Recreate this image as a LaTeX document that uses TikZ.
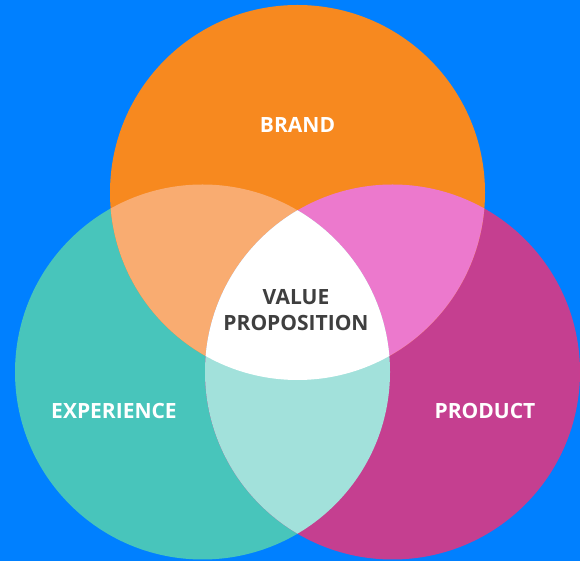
\documentclass[tikz,border=0pt]{standalone}
\usepackage{fontspec}
\setmainfont{Open Sans}
\usepackage{tikz}

\definecolor{bgblue}{HTML}{0080FF}
\definecolor{brandorange}{HTML}{F7891F}
\definecolor{expteal}{HTML}{48C5BB}
\definecolor{prodmagenta}{HTML}{C53F90}
\definecolor{peach}{HTML}{F9AC71}
\definecolor{pinkish}{HTML}{EC79CD}
\definecolor{lightteal}{HTML}{A2E1DB}
\definecolor{textgray}{HTML}{3F3F3F}

\tikzset{
  label/.style={font=\fontsize{21}{26}\selectfont\bfseries, text=white, align=center},
  core/.style={label, text=textgray}
}

\begin{document}
\begin{tikzpicture}[x=1pt, y=1pt]

% Background
\fill[bgblue] (0,0) rectangle (580,561);
\useasboundingbox (0,0) rectangle (580,561);

% Centres
\coordinate (brand) at (297.5,368.5);
\coordinate (experience) at (202.5,189);
\coordinate (product) at (392.5,189);
\def\rad{187.5}

% Circles
\fill[expteal] (experience) circle (\rad);
\fill[prodmagenta] (product) circle (\rad);
\fill[brandorange] (brand) circle (\rad);

% Overlaps
\begin{scope}
  \clip (brand) circle (\rad);
  \fill[peach] (experience) circle (\rad);
  \fill[pinkish] (product) circle (\rad);
\end{scope}
\begin{scope}
  \clip (experience) circle (\rad);
  \fill[lightteal] (product) circle (\rad);
  \clip (product) circle (\rad);
  \fill[white] (brand) circle (\rad);
\end{scope}

% Labels
\node[label] (brandtext) at (297.5,436) {BRAND};
\node[label] (exptext) at (114,150) {EXPERIENCE};
\node[label] (prodtext) at (485,150) {PRODUCT};
\node[core] (valuetext) at (296,251) {VALUE\\PROPOSITION};

\end{tikzpicture}
\end{document}
